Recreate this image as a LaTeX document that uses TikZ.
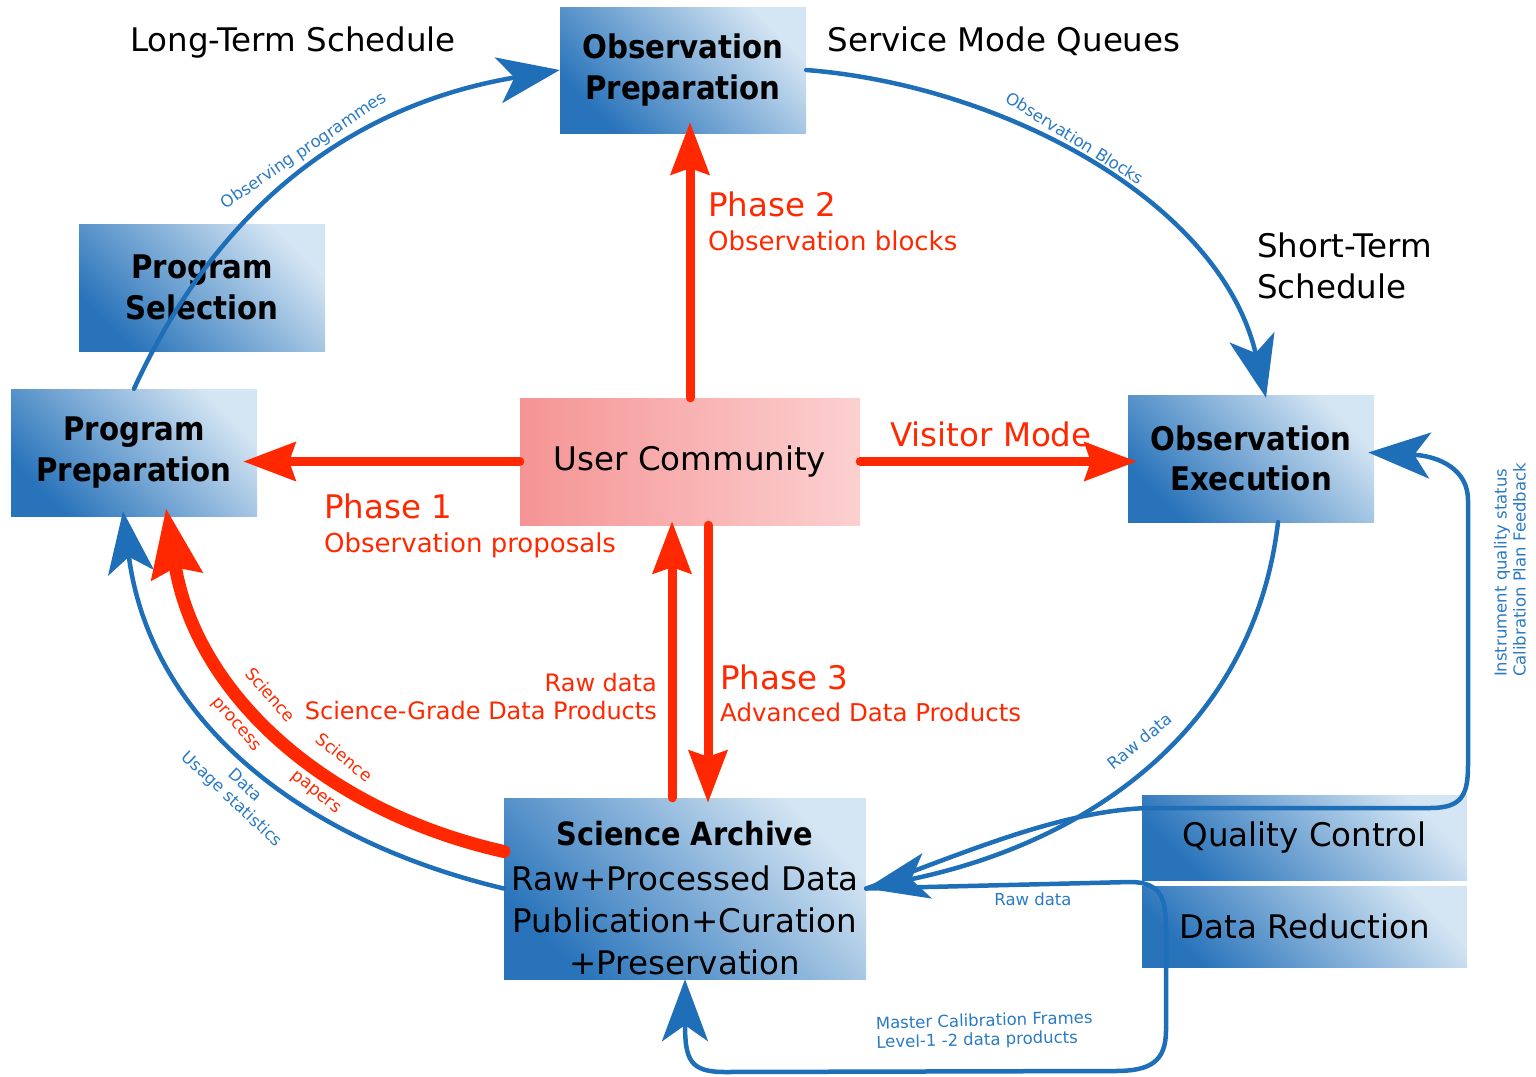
\documentclass[tikz,border=0pt]{standalone}
\usepackage{fontspec}
\setmainfont{DejaVu Sans}
\newfontfamily\condbf{DejaVu Sans Condensed Bold}
\usetikzlibrary{arrows.meta}
\definecolor{bdark}{RGB}{40,115,186}
\definecolor{blight}{RGB}{212,229,243}
\definecolor{pdark}{RGB}{245,148,148}
\definecolor{plight}{RGB}{252,208,208}
\definecolor{lblue}{RGB}{31,111,184}
\definecolor{tblue}{RGB}{42,122,196}
\definecolor{lred}{RGB}{255,40,0}
\tikzset{
  bluebox/.style={rectangle, inner sep=0pt, top color=blight, bottom color=bdark, shading angle=-45, align=center, text=black},
  pinkbox/.style={rectangle, inner sep=0pt, left color=pdark, right color=plight, align=center, text=black},
  titlef/.style={font=\condbf\fontsize{32.5}{40.5}\selectfont},
  bigf/.style={font=\fontsize{32.5}{41}\selectfont},
  blueline/.style={draw=lblue, line width=4.5pt, line cap=round, -{Stealth[length=62pt,width=46pt,inset=16pt]}},
  redline/.style={draw=lred, line width=9pt, line cap=round, -{Stealth[length=52pt,width=38pt,inset=6pt]}},
  smallblue/.style={text=tblue, font=\fontsize{16.5}{19}\selectfont, inner sep=0pt},
  smallred/.style={text=lred, font=\fontsize{17}{43}\selectfont, align=center, inner sep=0pt},
  redtext/.style={text=lred, font=\fontsize{32.5}{34}\selectfont, inner sep=0pt},
  blacktext/.style={text=black, font=\fontsize{32.5}{41}\selectfont, inner sep=0pt}
}
\begin{document}
\begin{tikzpicture}[x=1pt,y=-1pt]
\useasboundingbox (0,0) rectangle (1536,1076);
% boxes
\node[bluebox, titlef, minimum width=246pt, minimum height=126pt] (op) at (683,70) {Observation\\Preparation};
\node[bluebox, titlef, minimum width=246pt, minimum height=127pt] (ps) at (202,287.5) {Program\\Selection};
\node[bluebox, titlef, minimum width=246pt, minimum height=127pt] (pp) at (134,452.5) {Program\\Preparation};
\node[pinkbox, bigf, minimum width=340pt, minimum height=127pt] (uc) at (690,461.5) {User Community};
\node[bluebox, titlef, minimum width=246pt, minimum height=127pt] (oe) at (1251,458.5) {Observation\\Execution};
\node[bluebox, font=\fontsize{32.5}{42}\selectfont, minimum width=362pt, minimum height=181pt] (sa) at (685,888.5) {\rule{0pt}{44pt}{\condbf\fontsize{32}{42}\selectfont Science Archive}\\[3pt]Raw+Processed Data\\Publication+Curation\\+Preservation};
\node[bluebox, bigf, minimum width=325pt, minimum height=85pt] (qc) at (1304.5,837.5) {Quality Control};
\node[bluebox, bigf, minimum width=325pt, minimum height=81pt] (dr) at (1304.5,926.5) {Data Reduction};

% helper coordinates
\coordinate (oe-in) at ([xshift=15pt,yshift=-3pt]oe.north);
\coordinate (oe-out) at ([xshift=27pt]oe.south);
\coordinate (oe-fb) at ([shift={(-6pt,6pt)}]oe.east);
\coordinate (sa-red) at ([yshift=37pt]sa.west);
\coordinate (pp-red) at ([shift={(32pt,8pt)}]pp.south);
\coordinate (pp-blue) at ([shift={(-11pt,5pt)}]pp.south);
\coordinate (sa-up) at ([xshift=-13pt]sa.north);
\coordinate (uc-dn) at ([xshift=18pt]uc.south);

% blue connectors
\draw[blueline] (pp.north) .. controls (230,180) and (380,100) .. (op.west);
\draw[blueline] (op.east) .. controls (1000,85) and (1220,200) .. (oe-in);
\draw[blueline] (oe-out) .. controls (1255,720) and (1100,840) .. (sa.east);
\draw[blueline] (sa.east) .. controls (960,855) and (1060,810) .. (1150,808) -- (1430,808) .. controls (1462,808) and (1468,795) .. (1468,765) -- (1468,500) .. controls (1468,470) and (1440,456) .. (oe-fb);
\draw[blueline] (sa.east) -- (1130,882) .. controls (1162,882) and (1166,900) .. (1166,930) -- (1166,1030) .. controls (1166,1062) and (1150,1071) .. (1115,1071) -- (725,1072) .. controls (690,1072) and (685,1060) .. (sa.south);
\draw[blueline] (sa.west) .. controls (300,840) and (150,720) .. (pp-blue);

% red connectors
\draw[redline, shorten >=-14pt] (uc.west) -- (pp.east |- uc.west);
\draw[redline, shorten >=-11pt] (uc.north) -- (uc.north |- op.south);
\draw[redline, shorten >=-9pt] (uc.east) -- (oe.west |- uc.east);
\draw[redline, shorten >=-4pt] (sa-up) -- (sa-up |- uc.south);
\draw[redline, shorten >=-5pt] (uc-dn) -- (uc-dn |- sa.north);
\draw[redline, line width=13pt, -{Stealth[length=68pt,width=50pt,inset=8pt]}] (sa-red) .. controls (320,810) and (195,690) .. (pp-red);

% blue small labels
\node[smallblue, rotate=34] (l1) at (304,151) {Observing programmes};
\node[smallblue, rotate=-32] (l2) at (1075,138) {Observation Blocks};
\node[smallblue, rotate=39] (l3) at (1140,741) {Raw data};
\node[smallblue] (l4) at (1033,899) {Raw data};
\node[smallblue, rotate=1.5, anchor=west, align=left] (l5) at (876,1034) {Master Calibration Frames\\Level-1 -2 data products};
\node[smallblue, rotate=90, align=left] (l6) at (1510,570) {Instrument quality status\\Calibration Plan Feedback};
\node[smallblue, rotate=-43, align=center] (l7) at (238,793) {Data\\Usage statistics};
\node[smallred, rotate=-49] (l8) at (253,710) {Science\\process};
\node[smallred, rotate=-39] (l9) at (330,775) {Science\\papers};

% red labels
\node[redtext, anchor=base west, align=left] (ph2) at (708,250) {Phase 2\\{\fontsize{26}{31}\selectfont Observation blocks}};
\node[redtext, anchor=base west, align=left] (ph1) at (324,552) {Phase 1\\{\fontsize{26}{31}\selectfont Observation proposals}};
\node[redtext, anchor=base west] (vm) at (890,446) {Visitor Mode};
\node[redtext, anchor=base west, align=left, font=\fontsize{32.5}{32}\selectfont] (ph3) at (720,721) {Phase 3\\{\fontsize{24.5}{29}\selectfont Advanced Data Products}};
\node[redtext, anchor=base east, align=right, font=\fontsize{24}{28}\selectfont] (rd) at (657,719) {Raw data\\Science-Grade Data Products};

% black labels
\node[blacktext, anchor=base] (lts) at (293,51) {Long-Term Schedule};
\node[blacktext, anchor=base] (smq) at (1004,51) {Service Mode Queues};
\node[blacktext, anchor=base west, align=left] (sts) at (1257,298) {Short-Term\\Schedule};
\end{tikzpicture}
\end{document}
